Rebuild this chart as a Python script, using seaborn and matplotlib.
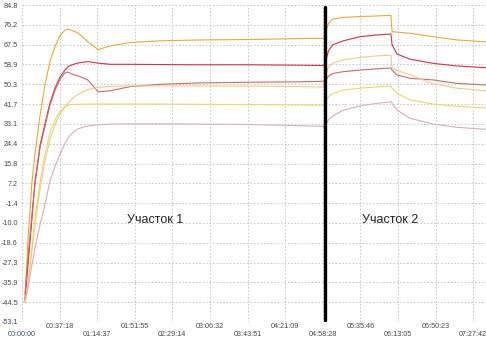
import numpy as np
import pandas as pd
import matplotlib
matplotlib.use('Agg')
import matplotlib.pyplot as plt
import seaborn as sns

# time axis, hours from start of the run
hours = [0.05, 0.10, 0.165, 0.215, 0.30, 0.38, 0.46, 0.55, 0.63, 0.71,
         0.76, 0.85, 0.93, 1.09, 1.26, 1.46, 1.79, 2.28, 2.94, 3.77,
         4.60, 4.99, 5.03, 5.07, 5.14, 5.31, 5.59, 5.84, 6.10, 6.12,
         6.20, 6.42, 6.80, 7.19, 7.67]

# readings for each sensor
orange = [-43, -17, 8, 20, 37, 50, 60, 67, 71.5, 73.9,
          74.3, 73.5, 72.6, 68.7, 65.4, 67.0, 68.5, 69.2, 69.6, 69.8,
          70.2, 70.3, 74.0, 76.8, 78.7, 79.4, 79.8, 80.0, 80.3, 73.2,
          73.0, 72.5, 71.0, 69.6, 68.8]
red = [-43.5, -28, -8, 8, 24, 33, 42, 49, 53.5, 56.5,
       58.0, 59.0, 59.6, 60.2, 59.5, 59.0, 59.0, 58.9, 58.8, 58.8,
       58.6, 58.5, 61.0, 65.0, 67.5, 69.2, 71.0, 71.7, 72.2, 67.5,
       63.5, 61.2, 59.4, 58.3, 57.5]
rose = [-41, -25, -6, 7, 23, 32, 41, 48, 52.5, 55.3,
        55.6, 54.5, 53.9, 52.2, 47.0, 47.5, 49.3, 50.3, 50.9, 51.2,
        51.4, 51.6, 52.5, 53.9, 55.0, 55.8, 56.5, 57.0, 57.4, 56.5,
        54.4, 52.9, 52.2, 50.7, 50.0]
pale_orange = [-44, -37, -22, -11, 5, 17, 26, 33, 37.5, 40.5,
               42.2, 44.5, 46.0, 48.0, 49.0, 49.4, 49.6, 49.6, 49.6, 49.5,
               49.3, 49.1, 55.0, 58.0, 59.5, 60.9, 62.0, 62.6, 63.0, 57.5,
               56.3, 54.4, 50.5, 48.6, 47.5]
yellow = [-44.5, -36, -20, -8, 8, 20, 29, 35, 38.5, 40.6,
          41.2, 41.5, 41.6, 41.7, 41.7, 41.7, 41.7, 41.7, 41.6, 41.5,
          41.3, 41.2, 43.5, 45.0, 46.3, 47.8, 48.6, 49.1, 49.6, 48.5,
          46.4, 43.5, 41.7, 40.8, 40.0]
mauve = [-44.5, -38, -28, -21, -10.5, -2, 8, 15, 20, 24.5,
         27, 29.5, 31, 32.2, 32.7, 33.0, 33.1, 33.1, 33.0, 32.8,
         32.3, 32.0, 33.0, 35.0, 36.5, 39.0, 40.9, 41.9, 42.7, 42.0,
         39.1, 35.5, 33.0, 31.6, 30.7]

series_names = ['orange', 'red', 'rose', 'pale_orange', 'yellow', 'mauve']
series_values = [orange, red, rose, pale_orange, yellow, mauve]
colors = {'orange': '#f0a633', 'red': '#d83040', 'rose': '#cf6868',
          'pale_orange': '#f3c98a', 'yellow': '#e6da66', 'mauve': '#dcaac8'}

x_tick_labels = ['00:00:00', '00:37:18', '01:14:37', '01:51:55', '02:29:14',
                 '03:06:32', '03:43:51', '04:21:09', '04:58:28', '05:35:46',
                 '06:13:05', '06:50:23', '07:27:42']
y_tick_labels = ['-53.1', '-44.5', '-35.9', '-27.3', '-18.6', '-10.0', '-1.4',
                 '7.2', '15.8', '24.4', '33.1', '41.7', '50.3', '58.9',
                 '67.5', '76.2', '84.8']

boundary_hour = 5.01
section_labels = ['Участок 1', 'Участок 2']
section_label_hours = [2.2, 6.09]
section_label_value = -8.8

# long table for seaborn
df = pd.DataFrame({
    'hours': hours * len(series_names),
    'value': sum(series_values, []),
    'series': [n for n in series_names for _ in hours],
})

sns.set_style('white')
plt.rcParams['font.family'] = ['Liberation Sans', 'DejaVu Sans']

fig = plt.figure(figsize=(4.86, 3.40), dpi=100)
ax = fig.add_axes([22 / 486, 18 / 340, 464 / 486, 317 / 340])

sns.lineplot(data=df, x='hours', y='value', hue='series', palette=colors,
             linewidth=0.8, legend=False, estimator=None, ax=ax)

# tick positions from the hh:mm:ss labels
tick_hours = []
for lab in x_tick_labels:
    h, m, s = [int(p) for p in lab.split(':')]
    tick_hours.append(h + m / 60 + s / 3600)

ax.set_xlim(0, 7.673)
ax.set_ylim(-53.1, 84.8)
ax.set_xticks(tick_hours[0::2])
ax.set_xticklabels(x_tick_labels[0::2])
ax.set_xticks(tick_hours[1::2], minor=True)
ax.set_xticklabels(x_tick_labels[1::2], minor=True)
ax.set_yticks(np.linspace(-53.1, 84.8, len(y_tick_labels)))
ax.set_yticklabels(y_tick_labels)

ax.tick_params(axis='both', which='both', length=0, labelsize=5.2, labelcolor='#454545')
ax.tick_params(axis='x', which='major', pad=6.6)
ax.tick_params(axis='x', which='minor', pad=0.8)
ax.tick_params(axis='y', pad=3)
ax.get_xticklabels()[0].set_color('#2b4f95')

ax.grid(True, which='both', linestyle=(0, (1.5, 2)), color='#c4c4c4', linewidth=0.7)
for sp in ax.spines.values():
    sp.set_visible(False)
ax.set_xlabel('')
ax.set_ylabel('')

# divider between the two sections
ax.axvline(boundary_hour, ymin=0.005, ymax=0.995, color='black', linewidth=2.4)

for lab, h in zip(section_labels, section_label_hours):
    ax.text(h, section_label_value, lab, ha='center', va='center',
            fontsize=9, color='#222222')

fig.savefig('out.png', dpi=100)
